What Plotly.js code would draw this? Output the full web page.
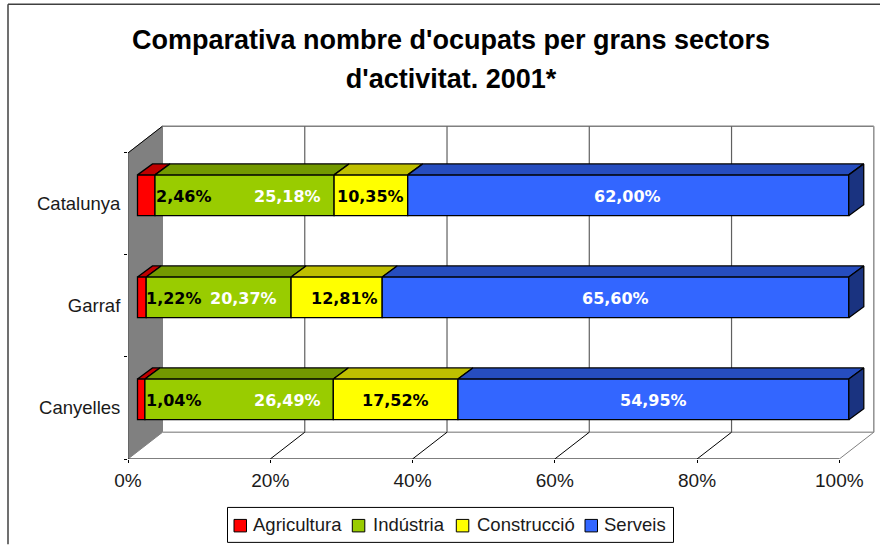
<!DOCTYPE html>
<html><head><meta charset="utf-8">
<script src="https://cdn.plot.ly/plotly-3.0.1.min.js"></script>
<style>html,body{margin:0;padding:0;background:#fff;overflow:hidden}</style>
</head><body><div id="chart" style="width:880px;height:545px"></div>
<script>
// ---- data ----
const categories = ['Canyelles', 'Garraf', 'Catalunya'];
const agricultura = [1.04, 1.22, 2.46];
const industria = [26.49, 20.37, 25.18];
const construccio = [17.52, 12.81, 10.35];
const serveis = [54.95, 65.60, 62.00];
const seriesNames = ['Agricultura', 'Indústria', 'Construcció', 'Serveis'];
const xTicks = [0, 20, 40, 60, 80, 100];

// ---- styles ----
const frontColors = ['#FF0000', '#99CC00', '#FFFF00', '#3366FF'];
const topColors = ['#BF0000', '#739900', '#BFBF00', '#264DBF'];
const sideColor = '#1A3380';
const labelColors = ['#000000', '#FFFFFF', '#000000', '#FFFFFF'];
// horizontal nudges of the data labels (px), per series then per category
const labelShift = [[33, 32, 38], [48, 24.5, 42.5], [0, 7.5, 0], [0, 0, -1]];
// legend layout (px)
const legendSwatchX = [234, 352.3, 456.3, 585];
const legendTextX = [251, 371, 474.5, 602];

// ---- pixel geometry -> data units ----
const W = 880, H = 545, L = 128, B = 459.5, T = 120;
const pxX = 7.113, pxY = 102.17;
const xMax = (W - L) / pxX, yMax = (B - T) / pxY;
const wallDX = 34.5 / pxX, wallDY = 26.8 / pxY;
const barDX = 15 / pxX, barDY = 11 / pxY;
const barBase = 9.5 / pxX, barShiftY = 0.085, barH = 0.4;
const series = [agricultura, industria, construccio, serveis];
const ys = categories.map((_, i) => i + 0.5 + barShiftY);
const paperX = px => (px - L) / (W - L);
const paperY = py => (B - py) / (B - T);

const traces = [], annotations = [];
const cum = categories.map(() => 0);
series.forEach((vals, s) => {
  const bases = vals.map((v, i) => cum[i] + barBase);
  traces.push({
    type: 'bar', orientation: 'h', name: seriesNames[s], x: vals, y: ys, base: bases,
    width: barH, marker: {color: frontColors[s], line: {color: '#000', width: 1.3}},
    hoverinfo: 'x+name'
  });
  vals.forEach((v, i) => {
    const x0 = bases[i], x1 = x0 + v, yt = ys[i] + barH / 2, yb = ys[i] - barH / 2;
    traces.push({
      type: 'scatter', mode: 'lines', hoverinfo: 'skip', fill: 'toself',
      fillcolor: topColors[s], line: {color: '#000', width: 1.3},
      x: [x0, x1, x1 + barDX, x0 + barDX, x0], y: [yt, yt, yt + barDY, yt + barDY, yt]
    });
    if (s === series.length - 1) {
      traces.push({
        type: 'scatter', mode: 'lines', hoverinfo: 'skip', fill: 'toself',
        fillcolor: sideColor, line: {color: '#000', width: 1.3},
        x: [x1, x1 + barDX, x1 + barDX, x1, x1], y: [yt, yt + barDY, yb + barDY, yb, yt]
      });
    }
    annotations.push({
      x: x0 + v / 2, y: ys[i], xref: 'x', yref: 'y', xshift: labelShift[s][i], yshift: -1,
      text: v.toFixed(2).replace('.', ',') + '%', showarrow: false,
      font: {family: 'DejaVu Sans', size: 16, color: labelColors[s], weight: 'bold'}
    });
    cum[i] += v;
  });
});

// walls, floor and gridlines
const n = categories.length;
const seg = (x0, y0, x1, y1, color, width) => ({type: 'line', layer: 'below', xref: 'x', yref: 'y',
  x0, y0, x1, y1, line: {color, width}});
const shapes = [
  {type: 'path', layer: 'below', xref: 'x', yref: 'y', fillcolor: '#808080', line: {color: '#808080', width: 1},
   path: `M0,0 L${wallDX},${wallDY} L${wallDX},${n + wallDY} L0,${n} Z`},
  seg(0, 0, 0, n, '#555555', 1.2),
  seg(0, n, wallDX, n + wallDY, '#000000', 1),
  seg(wallDX, wallDY, 100 + wallDX, wallDY, '#A0A0A0', 1.5),
  seg(wallDX, n + wallDY, 100 + wallDX, n + wallDY, '#808080', 1.5),
  seg(100 + wallDX, wallDY, 100 + wallDX, n + wallDY, '#909090', 1.5),
  seg(100, 0, 100 + wallDX, wallDY, '#808080', 1),
  seg(0, 0, 100, 0, '#000000', 1.2),
  {type: 'line', layer: 'below', xref: 'paper', yref: 'paper',
   x0: paperX(8), x1: paperX(8), y0: paperY(H), y1: paperY(4), line: {color: '#404040', width: 1.5}},
  {type: 'line', layer: 'below', xref: 'paper', yref: 'paper',
   x0: paperX(8), x1: 1, y0: paperY(4), y1: paperY(4), line: {color: '#404040', width: 1.5}},
  // legend box
  {type: 'rect', layer: 'above', xref: 'paper', yref: 'paper',
   x0: paperX(227.5), x1: paperX(673.5), y0: paperY(543), y1: paperY(508), fillcolor: '#fff', line: {color: '#000', width: 1}}
];
xTicks.slice(1, -1).forEach(t => {
  shapes.push(seg(t + wallDX, wallDY, t + wallDX, n + wallDY, '#606060', 1.2));
  shapes.push(seg(t, 0, t + wallDX, wallDY, '#000000', 1));
});
// legend entries
seriesNames.forEach((name, s) => {
  shapes.push({type: 'rect', layer: 'above', xref: 'paper', yref: 'paper',
    x0: paperX(legendSwatchX[s]), x1: paperX(legendSwatchX[s] + 12.5), y0: paperY(532.5), y1: paperY(520),
    fillcolor: frontColors[s], line: {color: '#000', width: 1}});
  annotations.push({xref: 'paper', yref: 'paper', x: paperX(legendTextX[s]), y: paperY(525.5),
    xanchor: 'left', yanchor: 'middle', text: name, showarrow: false,
    font: {family: 'Liberation Sans', size: 18.5, color: '#1a1a1a'}});
});

const titleText = "<span style='font-size:27px'>Comparativa nombre d'ocupats per grans sectors</span><br>" +
  "<span style='font-size:27px'>d'activitat. 2001*</span>";
const layout = {
  width: W, height: H, margin: {l: L, r: 0, t: T, b: H - B},
  paper_bgcolor: '#fff', plot_bgcolor: 'rgba(0,0,0,0)',
  barmode: 'overlay', showlegend: false,
  font: {family: 'Liberation Sans', size: 19, color: '#1a1a1a'},
  title: {text: titleText,
    font: {family: 'Liberation Sans', size: 30, color: '#000', weight: 'bold'},
    xref: 'container', yref: 'container', x: 451 / W, xanchor: 'center', y: 1 - 48.5 / H, yanchor: 'top'},
  xaxis: {range: [0, xMax], tickvals: xTicks, ticktext: xTicks.map(t => t + '%'), ticks: 'outside', ticklen: 3,
    tickcolor: '#000', showgrid: false, zeroline: false, showline: false, fixedrange: true, ticklabelstandoff: 1,
    tickfont: {size: 19, family: 'Liberation Sans', color: '#1a1a1a'}},
  yaxis: {range: [0, yMax], tickvals: categories.map((_, i) => i + 0.5), ticktext: categories,
    ticks: 'outside', ticklen: 3, tickcolor: 'rgba(0,0,0,0)', showgrid: false, zeroline: false, showline: false,
    fixedrange: true, ticklabelshift: 1.5, tickfont: {size: 18.5, family: 'Liberation Sans', color: '#1a1a1a'},
    minor: {tickvals: [0, 1, 2, 3], ticks: 'outside', ticklen: 3, tickcolor: '#000', showgrid: false}},
  shapes, annotations
};
traces.forEach(t => { t.showlegend = false; });
Plotly.newPlot('chart', traces, layout, {displayModeBar: false, staticPlot: true});
</script></body></html>
